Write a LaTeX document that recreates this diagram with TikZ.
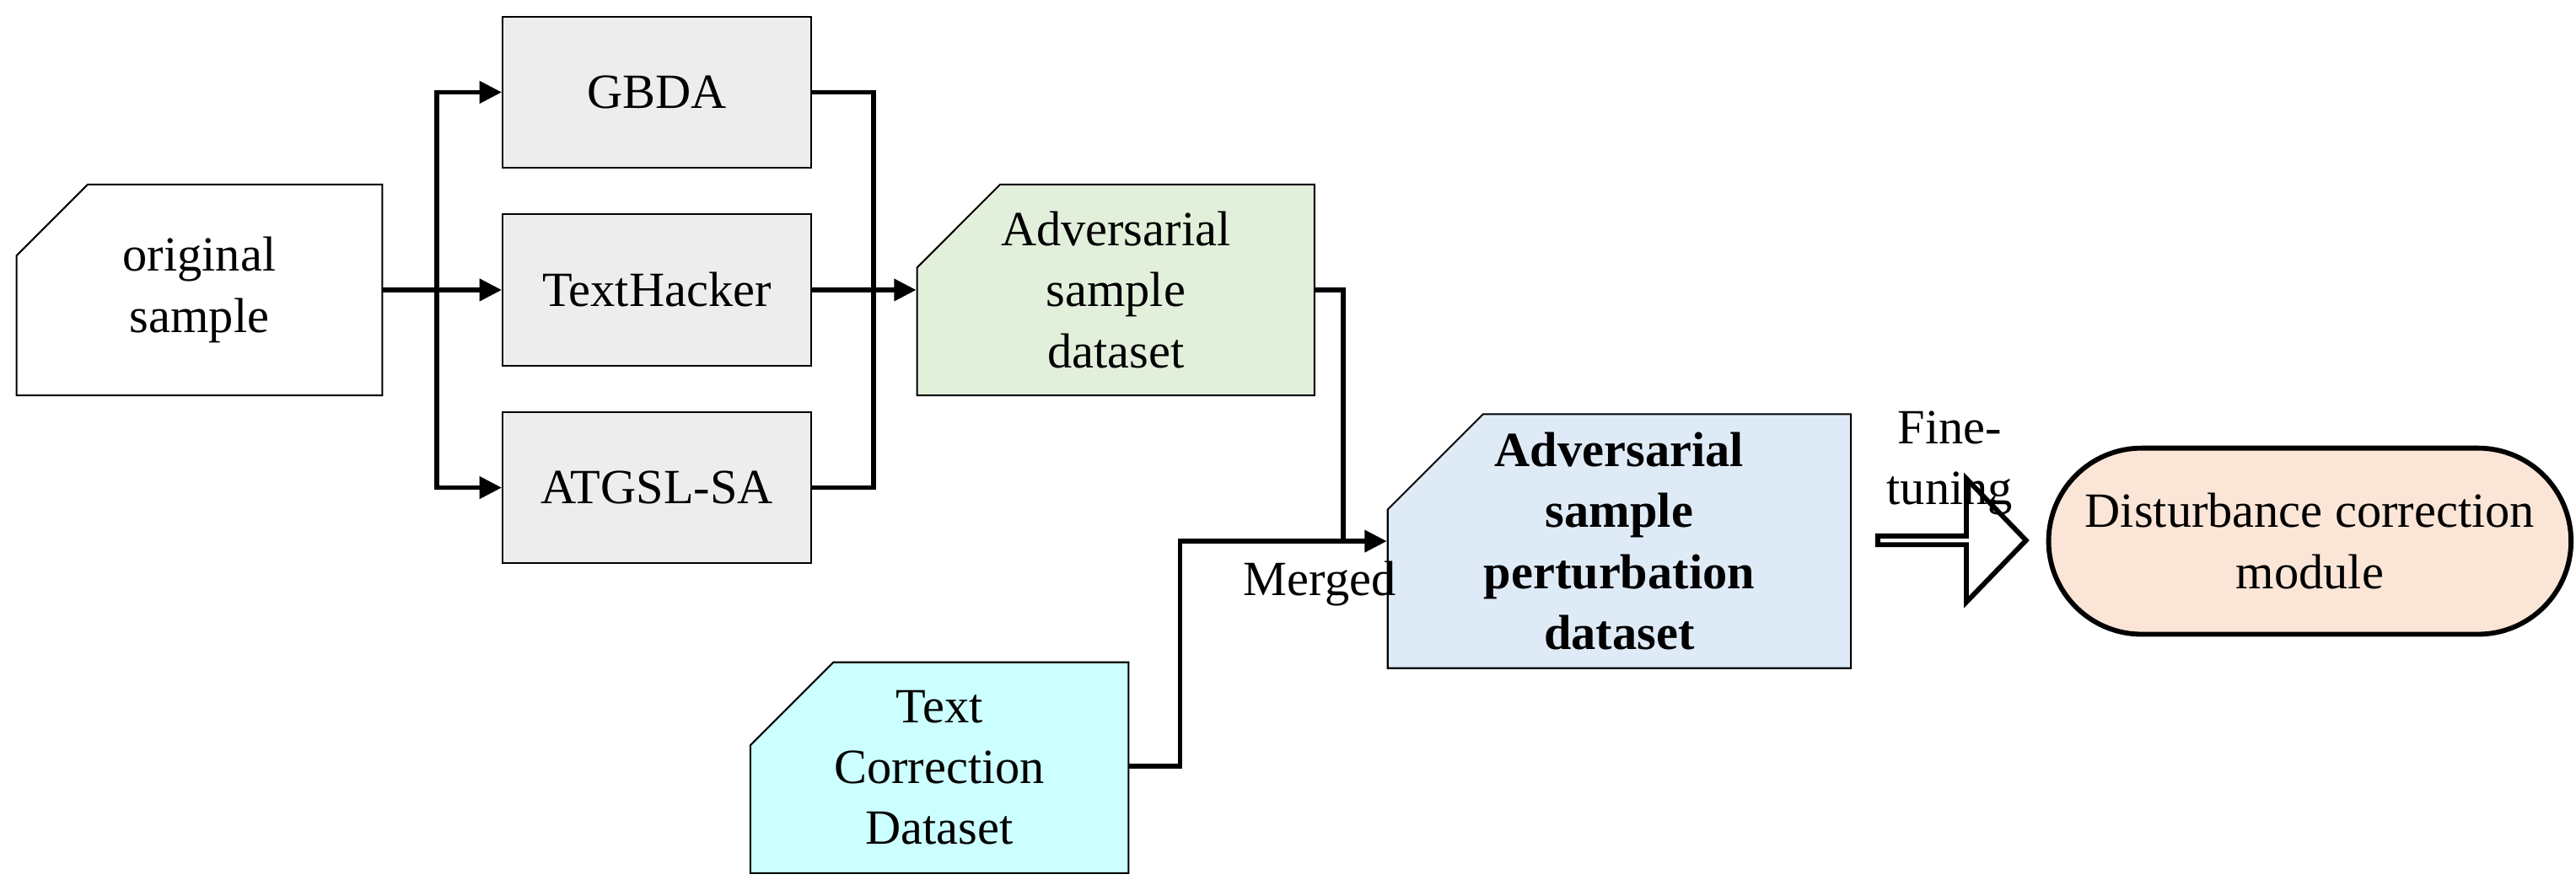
\documentclass[tikz,border=0pt]{standalone}
\usepackage{fontspec}
\setmainfont{Liberation Serif}
\usetikzlibrary{shapes.misc, shapes.arrows, arrows.meta, positioning}
\definecolor{boxgray}{HTML}{EDEDED}
\definecolor{advgreen}{HTML}{E2EFDA}
\definecolor{pertblue}{HTML}{DEEBF7}
\definecolor{corrcyan}{HTML}{CCFFFF}
\definecolor{modorange}{HTML}{FBE5D6}
\tikzstyle{data} = [
  chamfered rectangle,
  chamfered rectangle corners=north west,
  chamfered rectangle xsep=0.9cm,
  minimum width=4.44cm,
  minimum height=2.56cm,
  align=center,
  draw=black,
  line width=0.6pt,
  fill=white,
  font=\fontsize{17}{21}\selectfont
]
\tikzstyle{method} = [
  rectangle,
  minimum width=3.74cm,
  minimum height=1.84cm,
  align=center,
  draw=black,
  line width=0.6pt,
  fill=boxgray,
  font=\fontsize{17}{21}\selectfont
]
\tikzstyle{line} = [line width=1.7pt]
\tikzstyle{arrow} = [line width=1.7pt, -{Triangle[length=0.27cm,width=0.26cm]}]

\begin{document}
\begin{tikzpicture}
    \useasboundingbox (0,0) rectangle (31.26,-10.74);
    \node (orig-sample) [data] at (2.42,-3.52) {original\\sample};
    \node (gbda) [method] at (7.97,-1.12) {GBDA};
    \node (texthacker) [method] at (7.97,-3.52) {TextHacker};
    \node (atgsl-sa) [method] at (7.97,-5.92) {ATGSL-SA};
    \node (adv-dataset) [data, fill=advgreen] at (13.54,-3.52) {Adversarial\\sample\\dataset};
    \node (pert-dataset) [data, fill=pertblue, minimum width=4.9cm, minimum height=3.06cm,
      chamfered rectangle xsep=1.05cm, font=\fontsize{17}{21}\selectfont\bfseries]
      at (19.65,-6.57) {Adversarial\\sample\\perturbation\\dataset};
    \node (corr-dataset) [data, fill=corrcyan, minimum width=4.48cm] at (11.4,-9.32) {Text\\Correction\\Dataset};
    \node (dc-module) [rectangle, rounded corners=1.13cm, minimum width=6.34cm, minimum height=2.26cm,
      draw=black, line width=1.7pt, fill=modorange, align=center, font=\fontsize{17}{21}\selectfont]
      at (28.03,-6.57) {Disturbance correction\\module};
    \node (fine-arrow) [single arrow, single arrow head extend=0.39cm, single arrow tip angle=92,
      minimum width=1.5cm, minimum height=1.8cm, inner sep=0pt, draw=black, line width=1.7pt, fill=white]
      at (23.66,-6.56) {};
    \node (fine-label) [align=center, font=\fontsize{17}{21}\selectfont, above=0.1cm of fine-arrow] {Fine-\\tuning};

    \coordinate (split) at (5.3,-3.52);
    \coordinate (join) at (10.6,-3.52);
    \coordinate (merge) at (16.3,-6.57);
    \coordinate (bend) at (14.32,-9.3);

    \draw [line] (orig-sample.east) -- (split);
    \draw [arrow] (split) |- (gbda.west);
    \draw [arrow] (split) -- (texthacker.west);
    \draw [arrow] (split) |- (atgsl-sa.west);
    \draw [line] (gbda.east) -| (join);
    \draw [line] (atgsl-sa.east) -| (join);
    \draw [arrow] (texthacker.east) -- (adv-dataset.west);
    \draw [line] (adv-dataset.east) -| (merge);
    \draw [line] (corr-dataset.east |- bend) -- (bend) |- (merge);
    \draw [arrow] (merge) -- node[below=0.1cm, font=\fontsize{17}{21}\selectfont, xshift=-0.55cm] {Merged} (pert-dataset.west);
\end{tikzpicture}
\end{document}
